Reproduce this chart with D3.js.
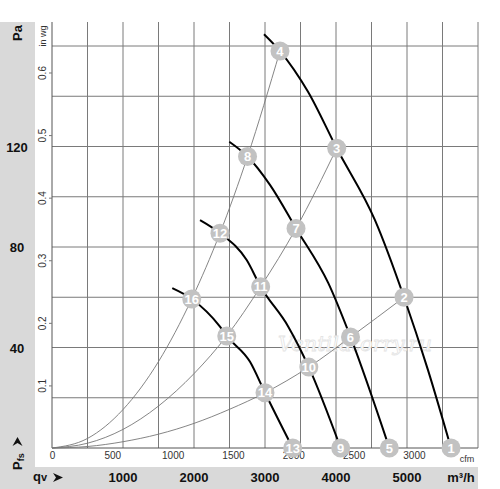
<!DOCTYPE html>
<html>
<head>
<meta charset="utf-8">
<script src="https://cdn.jsdelivr.net/npm/d3@7"></script>
<style>
  body { margin: 0; background: #fff; }
  svg { display: block; font-family: "Liberation Sans", Arial, sans-serif; }
</style>
</head>
<body>
<div id="chart"></div>
<script>
// fan curves, [airflow m3/h, static pressure Pa], one per speed
const fanCurve1 = [[2986, 164.7], [3211, 158.0], [3606, 141.8], [4010, 119.3], [4549, 90.7], [4958, 60.0], [5296, 31.0], [5620, 0]];
const fanCurve2 = [[2497, 121.9], [2754, 116.0], [3070, 104.7], [3437, 87.4], [3892, 65.6], [4204, 44.2], [4751, 0]];
const fanCurve3 = [[2085, 90.7], [2366, 85.5], [2742, 74.8], [2939, 64.2], [3328, 48.3], [3617, 32.2], [4066, 0]];
const fanCurve4 = [[1694, 63.6], [1968, 59.3], [2366, 48.3], [2461, 44.6], [2789, 34.3], [3000, 22.0], [3390, 0]];

// system (resistance) curves from the origin
const systemA = [[0, 0], [500, 3.8], [1000, 15.3], [1500, 34.4], [1968, 59.3], [2366, 85.5], [2754, 116.0], [3211, 158.0]];
const systemB = [[0, 0], [500, 1.9], [1000, 7.4], [1500, 16.7], [2000, 29.6], [2461, 44.6], [2939, 64.2], [3437, 87.4], [4010, 119.3]];
const systemC = [[0, 0], [500, 0.6], [1000, 2.5], [1500, 5.5], [2000, 9.8], [2500, 15.4], [3000, 22.0], [3617, 32.2], [4208, 44.2], [4958, 60.0]];

// numbered operating points
const pointIds = [1, 2, 3, 4, 5, 6, 7, 8, 9, 10, 11, 12, 13, 14, 15, 16];
const pointFlow = [5620, 4958, 4010, 3211, 4751, 4204, 3437, 2754, 4066, 3617, 2939, 2366, 3390, 3000, 2461, 1968];
const pointPress = [0, 60.0, 119.3, 158.0, 0, 44.2, 87.4, 116.0, 0, 32.2, 64.2, 85.5, 0, 22.0, 44.6, 59.3];

// tick labels
const flowTicks = [1000, 2000, 3000, 4000, 5000];
const cfmTicks = [0, 500, 1000, 1500, 2000, 2500, 3000];
const paTicks = [40, 80, 120];
const inwgTicks = [0.1, 0.2, 0.3, 0.4, 0.5, 0.6];

const W = 500, H = 489;
const x0 = 52, x1 = 478, yBase = 448, yTop = 22;

const svg = d3.select('#chart').append('svg')
  .attr('width', W)
  .attr('height', H);

// scales
const x = d3.scaleLinear().domain([0, 6000]).range([x0, x1]);
const y = d3.scaleLinear().domain([0, 160]).range([yBase, 46]);
const xCfm = d3.scaleLinear().domain([0, 6000 / 1.699]).range([x0, x1]);
const yInwg = d3.scaleLinear().domain([0, 160 / 249.09]).range([yBase, 46]);

// grey bands
svg.append('rect').attr('x', 0).attr('y', yTop).attr('width', 35).attr('height', H - yTop).attr('fill', '#d9d9d9');
svg.append('rect').attr('x', 0).attr('y', 467).attr('width', x1).attr('height', H - 467).attr('fill', '#d9d9d9');

// grid
const grid = svg.append('g').attr('stroke', '#7a7a7a').attr('stroke-width', 1);
grid.selectAll('line.v')
  .data(d3.range(500, 6001, 500))
  .join('line')
  .attr('class', 'v')
  .attr('x1', d => x(d)).attr('x2', d => x(d))
  .attr('y1', yTop).attr('y2', yBase);
grid.selectAll('line.h')
  .data(d3.range(20, 161, 20))
  .join('line')
  .attr('class', 'h')
  .attr('x1', x0).attr('x2', x1)
  .attr('y1', d => y(d)).attr('y2', d => y(d));

// axis lines
svg.append('line').attr('x1', x0).attr('x2', x0).attr('y1', yTop).attr('y2', yBase).attr('stroke', '#555');
svg.append('line').attr('x1', x0).attr('x2', x1).attr('y1', yBase).attr('y2', yBase).attr('stroke', '#555');

// watermark
svg.append('text')
  .attr('x', 355).attr('y', 351)
  .attr('text-anchor', 'middle')
  .attr('font-family', '"DejaVu Serif", serif')
  .attr('font-style', 'italic')
  .attr('font-size', 21)
  .attr('fill', '#fff')
  .attr('stroke', '#e4e4e4')
  .attr('stroke-width', 0.8)
  .text('Ventilatorry.ru');

// in wg axis (rotated labels)
const inwgAxis = svg.append('g')
  .attr('transform', `translate(${x0},0)`)
  .call(d3.axisLeft(yInwg).tickValues(inwgTicks).tickSize(3).tickFormat(d3.format('.1f')));
inwgAxis.select('.domain').remove();
inwgAxis.selectAll('line').attr('stroke', '#777');
inwgAxis.selectAll('text')
  .attr('transform', 'rotate(-90)')
  .attr('text-anchor', 'middle')
  .attr('x', 0).attr('y', -6).attr('dy', 0)
  .attr('font-size', 10)
  .attr('fill', '#333')
  .attr('font-family', '"Liberation Sans", Arial, sans-serif');
svg.append('text')
  .attr('transform', 'translate(46,36) rotate(-90)')
  .attr('text-anchor', 'middle')
  .attr('font-size', 9)
  .attr('fill', '#333')
  .text('in wg');

// cfm axis
const cfmAxis = svg.append('g')
  .attr('transform', `translate(0,${yBase})`)
  .call(d3.axisBottom(xCfm).tickValues(cfmTicks).tickSize(0).tickPadding(4).tickFormat(d3.format('d')));
cfmAxis.select('.domain').remove();
cfmAxis.selectAll('text')
  .attr('font-size', 10)
  .attr('fill', '#333')
  .attr('font-family', '"Liberation Sans", Arial, sans-serif');
svg.append('text')
  .attr('x', 467).attr('y', 462)
  .attr('text-anchor', 'middle')
  .attr('font-size', 9)
  .attr('fill', '#333')
  .text('cfm');

// m3/h labels in bottom band
svg.selectAll('text.flow')
  .data(flowTicks)
  .join('text')
  .attr('class', 'flow')
  .attr('x', d => x(d)).attr('y', 482)
  .attr('text-anchor', 'middle')
  .attr('font-size', 13)
  .attr('font-weight', 'bold')
  .attr('fill', '#111')
  .text(d => d);
svg.append('text')
  .attr('x', 461).attr('y', 482)
  .attr('text-anchor', 'middle')
  .attr('font-size', 13)
  .attr('font-weight', 'bold')
  .attr('fill', '#111')
  .text('m³/h');

// Pa labels in left band
svg.selectAll('text.pa')
  .data(paTicks)
  .join('text')
  .attr('class', 'pa')
  .attr('x', 17).attr('y', d => y(d) + 5)
  .attr('text-anchor', 'middle')
  .attr('font-size', 13)
  .attr('font-weight', 'bold')
  .attr('fill', '#111')
  .text(d => d);
svg.append('text')
  .attr('transform', 'translate(22,33) rotate(-90)')
  .attr('text-anchor', 'middle')
  .attr('font-size', 13)
  .attr('font-weight', 'bold')
  .attr('fill', '#111')
  .text('Pa');

// Pfs label with arrow
const pfs = svg.append('text')
  .attr('transform', 'translate(22,470) rotate(-90)')
  .attr('font-size', 13)
  .attr('font-weight', 'bold')
  .attr('fill', '#111');
pfs.append('tspan').text('P');
pfs.append('tspan').attr('font-size', 9).attr('dy', 2).text('fs');
svg.append('path')
  .attr('d', 'M17.5,437 L22.5,446 L17.5,443 L12.5,446 Z')
  .attr('fill', '#111');

// qv label with arrow
const qv = svg.append('text')
  .attr('x', 33).attr('y', 481)
  .attr('font-size', 13)
  .attr('font-weight', 'bold')
  .attr('fill', '#111');
qv.append('tspan').text('q');
qv.append('tspan').attr('font-size', 11).text('v');
svg.append('path')
  .attr('d', 'M53,473 L63,477.5 L53,482 L56,477.5 Z')
  .attr('fill', '#111');

// curves
const line = d3.line()
  .x(d => x(d[0]))
  .y(d => y(d[1]))
  .curve(d3.curveMonotoneX);

svg.append('g')
  .selectAll('path')
  .data([systemA, systemB, systemC])
  .join('path')
  .attr('fill', 'none')
  .attr('stroke', '#777')
  .attr('stroke-width', 0.9)
  .attr('d', line);

svg.append('g')
  .selectAll('path')
  .data([fanCurve1, fanCurve2, fanCurve3, fanCurve4])
  .join('path')
  .attr('fill', 'none')
  .attr('stroke', '#000')
  .attr('stroke-width', 2)
  .attr('d', line);

// numbered points
const pts = svg.append('g')
  .selectAll('g')
  .data(pointIds.map((id, i) => ({ id, q: pointFlow[i], p: pointPress[i] })))
  .join('g')
  .attr('transform', d => `translate(${x(d.q)},${y(d.p)})`);
pts.append('circle')
  .attr('r', 9.5)
  .attr('fill', '#c2c2c2');
pts.append('text')
  .attr('text-anchor', 'middle')
  .attr('dy', '0.36em')
  .attr('font-size', 13)
  .attr('font-weight', 'bold')
  .attr('fill', '#fff')
  .text(d => d.id);
</script>
</body>
</html>
